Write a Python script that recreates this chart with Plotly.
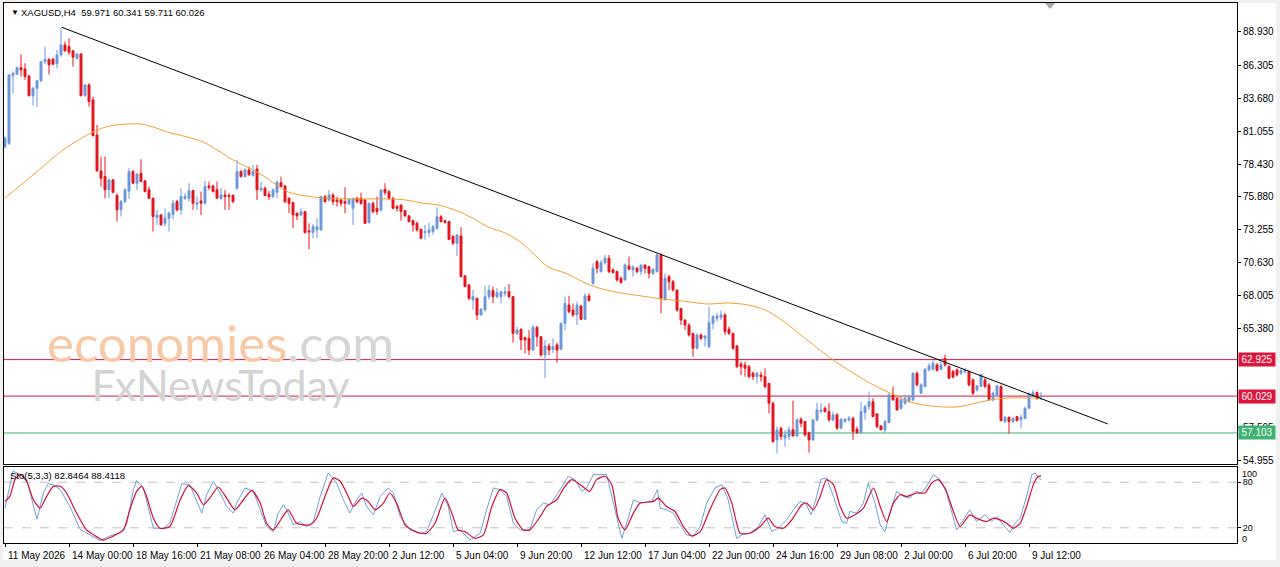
import plotly.graph_objects as go

# ---------------- data ----------------
opens = [79.84, 80.10, 85.46, 85.57, 86.10, 86.00, 85.44, 83.85, 84.46, 85.05,
         86.58, 86.76, 86.76, 86.40, 87.11, 87.90, 87.77, 87.43, 86.84, 87.19,
         83.88, 84.73, 83.54, 80.76, 77.90, 77.45, 76.40, 77.19, 75.95, 74.81,
         75.47, 76.30, 77.85, 76.93, 77.72, 77.11, 76.40, 75.73, 74.20, 74.41,
         73.75, 74.15, 74.45, 75.47, 74.81, 75.73, 75.73, 76.34, 75.26, 75.52,
         75.34, 76.71, 76.71, 76.40, 75.73, 76.00, 75.95, 75.95, 76.53, 77.85,
         77.45, 77.98, 77.53, 78.06, 76.40, 76.53, 76.05, 75.86, 76.20, 76.97,
         76.71, 75.73, 75.39, 74.54, 74.41, 74.67, 73.16, 73.00, 73.22, 73.22,
         75.86, 75.60, 75.99, 75.60, 75.60, 75.46, 75.28, 74.94, 75.73, 75.73,
         75.60, 73.80, 75.33, 74.94, 74.80, 76.44, 76.26, 75.73, 75.07, 75.20,
         74.75, 74.33, 73.96, 73.74, 73.27, 73.00, 73.00, 73.08, 73.35, 74.27,
         73.96, 73.88, 72.69, 72.16, 72.74, 69.57, 68.85, 67.66, 67.79, 66.47,
         66.87, 67.92, 68.40, 67.92, 67.92, 68.19, 68.32, 67.92, 65.01, 65.33,
         64.67, 64.62, 63.69, 65.49, 64.75, 63.29, 64.01, 63.74, 64.09, 63.75,
         65.81, 67.26, 66.86, 66.47, 67.18, 66.12, 67.98, 68.98, 70.70, 69.91,
         70.62, 70.97, 70.04, 69.91, 69.38, 69.25, 70.36, 70.04, 70.17, 69.91,
         70.44, 70.30, 69.77, 69.91, 71.23, 67.71, 69.51, 69.11, 68.45, 66.99,
         66.07, 65.67, 65.01, 63.82, 64.88, 64.62, 63.95, 65.81, 66.20, 66.28,
         66.47, 65.33, 65.01, 64.01, 62.58, 62.50, 62.37, 61.84, 61.57, 61.71,
         61.57, 61.04, 59.46, 56.55, 57.47, 56.69, 56.82, 57.35, 56.87, 58.19,
         58.01, 57.13, 56.55, 58.14, 58.80, 59.07, 58.80, 58.14, 58.54, 57.48,
         58.01, 58.14, 58.27, 57.40, 57.13, 58.72, 59.20, 59.59, 58.62, 57.66,
         57.35, 57.93, 60.12, 59.86, 59.07, 59.46, 59.59, 59.73, 61.84, 60.26,
         60.79, 62.11, 62.16, 62.50, 62.16, 63.03, 62.37, 61.98, 62.11, 61.84,
         61.98, 61.98, 61.31, 60.52, 60.79, 61.31, 60.92, 59.73, 60.12, 60.79,
         58.01, 58.35, 58.01, 58.40, 58.14, 58.27, 59.07, 60.12, 60.31, 59.971]
highs = [80.63, 85.57, 85.79, 86.18, 87.16, 86.45, 85.52, 84.60, 85.13, 86.63,
         87.77, 86.84, 86.89, 87.51, 89.28, 88.17, 88.43, 87.51, 87.24, 87.24,
         84.78, 84.86, 83.80, 81.55, 79.04, 79.04, 77.32, 77.27, 76.13, 75.60,
         76.53, 78.11, 77.98, 77.72, 78.83, 77.19, 76.66, 75.79, 74.81, 74.47,
         74.94, 74.68, 75.60, 75.60, 76.53, 76.13, 76.93, 76.40, 75.87, 76.26,
         77.11, 77.06, 76.79, 77.06, 76.53, 76.40, 76.13, 76.05, 78.78, 77.98,
         78.11, 78.24, 78.38, 78.38, 77.06, 76.66, 76.30, 76.52, 77.18, 77.45,
         76.79, 75.80, 75.46, 74.60, 74.94, 74.72, 73.74, 73.69, 74.14, 75.92,
         75.99, 76.39, 76.13, 75.86, 75.65, 76.60, 75.73, 75.75, 75.86, 76.18,
         75.65, 75.38, 75.46, 75.86, 76.44, 76.92, 76.39, 75.86, 75.20, 75.20,
         74.80, 74.41, 74.01, 73.88, 73.32, 73.61, 73.80, 73.61, 75.02, 74.41,
         74.01, 73.93, 72.82, 72.90, 73.43, 69.64, 68.93, 68.45, 67.84, 67.00,
         68.77, 68.85, 68.72, 68.59, 68.35, 68.72, 68.93, 67.98, 65.54, 65.41,
         64.75, 65.28, 65.67, 65.59, 64.80, 64.48, 64.22, 64.62, 64.27, 65.86,
         67.92, 67.98, 67.39, 67.53, 67.26, 68.19, 68.19, 70.57, 70.83, 70.83,
         71.23, 71.23, 70.17, 69.99, 69.51, 70.57, 71.10, 70.44, 70.30, 70.46,
         70.46, 70.36, 70.17, 71.36, 71.36, 69.77, 69.64, 69.25, 68.45, 66.99,
         66.12, 65.81, 65.01, 65.01, 65.01, 64.88, 67.13, 66.46, 66.65, 66.81,
         66.60, 65.54, 65.07, 64.09, 62.77, 62.77, 62.50, 61.97, 61.97, 61.97,
         62.24, 61.04, 59.60, 57.61, 57.61, 57.35, 57.61, 59.67, 58.27, 58.35,
         58.01, 57.21, 58.19, 59.52, 59.46, 59.20, 59.46, 58.80, 58.67, 58.27,
         58.27, 58.46, 58.40, 57.61, 59.59, 59.33, 60.39, 59.86, 58.67, 57.74,
         58.14, 60.26, 60.79, 59.94, 59.94, 60.12, 60.12, 61.90, 61.98, 61.05,
         62.24, 62.64, 62.85, 62.64, 62.77, 63.30, 62.50, 62.11, 62.24, 62.16,
         62.24, 62.06, 61.45, 60.92, 61.84, 61.45, 61.05, 60.39, 60.92, 60.92,
         58.46, 58.40, 58.35, 58.46, 58.54, 59.20, 60.31, 60.52, 60.39, 60.341]
lows = [79.70, 79.97, 84.07, 85.52, 85.39, 85.13, 83.80, 83.09, 82.96, 84.94,
        86.37, 85.57, 86.30, 86.05, 86.97, 87.37, 87.11, 86.18, 86.71, 83.80,
        83.80, 83.01, 80.63, 77.85, 76.66, 75.73, 75.73, 76.13, 73.88, 74.28,
        75.34, 75.68, 76.87, 76.40, 77.06, 76.21, 75.68, 73.09, 73.62, 73.57,
        73.49, 73.09, 74.07, 74.68, 74.41, 75.60, 75.47, 74.81, 74.81, 74.41,
        75.20, 76.40, 76.21, 75.73, 75.60, 74.81, 74.81, 75.34, 76.40, 77.38,
        77.38, 77.53, 77.45, 75.60, 76.26, 75.87, 75.60, 75.73, 75.73, 76.60,
        75.33, 74.54, 73.35, 74.01, 74.33, 72.95, 71.68, 72.56, 72.56, 73.17,
        75.39, 75.46, 75.20, 75.07, 75.07, 74.54, 75.20, 73.61, 75.33, 75.20,
        73.69, 73.74, 74.54, 74.41, 74.67, 76.00, 75.60, 74.86, 74.67, 73.95,
        74.27, 73.80, 73.08, 73.08, 72.48, 72.42, 72.64, 72.82, 73.22, 73.80,
        73.74, 72.42, 72.03, 71.15, 69.46, 68.70, 67.66, 66.87, 66.07, 66.41,
        66.74, 67.71, 67.40, 67.79, 67.40, 67.92, 67.79, 64.27, 64.88, 63.69,
        63.43, 63.29, 63.64, 63.95, 63.16, 61.44, 63.29, 63.43, 62.68, 63.70,
        65.28, 66.60, 66.33, 65.67, 66.07, 66.07, 67.53, 68.85, 69.77, 69.83,
        70.44, 69.77, 69.77, 69.11, 68.98, 69.20, 70.04, 69.51, 69.77, 69.64,
        69.77, 69.38, 69.64, 69.83, 66.60, 67.61, 68.45, 68.32, 66.73, 65.67,
        65.28, 64.75, 63.16, 63.74, 64.48, 63.95, 63.82, 65.33, 65.94, 66.07,
        64.88, 64.88, 63.69, 62.24, 61.71, 61.57, 61.44, 61.31, 61.04, 61.18,
        60.65, 58.66, 56.34, 55.49, 56.55, 56.02, 56.55, 56.82, 56.82, 57.56,
        56.82, 55.55, 56.50, 58.01, 58.67, 58.72, 58.01, 58.01, 57.35, 57.40,
        57.93, 58.01, 56.55, 57.03, 57.08, 58.14, 58.93, 58.35, 57.48, 57.33,
        57.08, 57.88, 59.67, 58.88, 58.93, 59.33, 59.51, 59.59, 60.79, 60.20,
        60.74, 61.98, 62.06, 61.98, 62.06, 62.37, 61.37, 61.45, 61.58, 61.71,
        61.84, 60.79, 60.12, 60.39, 60.74, 60.65, 59.67, 59.59, 60.04, 58.01,
        57.88, 57.03, 57.93, 58.01, 57.48, 58.19, 58.99, 59.99, 59.73, 59.711]
closes = [80.50, 85.52, 85.65, 86.10, 85.92, 85.39, 83.88, 84.46, 85.05, 86.58,
          86.76, 86.32, 86.37, 87.11, 87.90, 87.43, 87.32, 86.92, 87.19, 83.88,
          84.73, 83.41, 80.71, 77.90, 77.32, 76.40, 77.19, 76.21, 74.81, 75.47,
          76.40, 77.85, 76.93, 77.64, 77.06, 76.26, 75.73, 74.28, 74.41, 73.62,
          74.15, 74.55, 75.34, 74.81, 75.87, 75.87, 76.34, 75.34, 75.39, 75.34,
          76.66, 76.58, 76.26, 75.73, 76.00, 75.87, 75.87, 75.47, 77.85, 77.45,
          77.98, 77.59, 77.85, 76.40, 76.53, 75.95, 75.85, 76.39, 77.00, 76.66,
          75.46, 75.33, 74.41, 74.33, 74.67, 73.00, 73.06, 73.48, 73.48, 75.86,
          75.46, 75.99, 75.46, 75.46, 75.33, 75.33, 75.65, 75.73, 75.46, 75.33,
          73.74, 75.33, 74.67, 74.67, 76.39, 76.18, 75.73, 74.94, 74.94, 74.67,
          74.33, 73.88, 73.61, 73.22, 72.56, 73.08, 73.22, 73.48, 74.27, 73.88,
          73.80, 72.47, 72.16, 72.82, 69.51, 68.72, 67.79, 67.92, 66.47, 66.92,
          67.92, 68.45, 67.92, 68.24, 68.32, 68.32, 67.92, 65.01, 65.28, 64.49,
          64.48, 63.69, 65.49, 64.75, 63.29, 64.01, 63.69, 63.95, 63.69, 65.81,
          67.39, 66.73, 66.47, 67.26, 66.12, 67.98, 67.61, 70.17, 70.17, 70.62,
          70.97, 69.91, 69.83, 69.25, 69.03, 70.44, 70.09, 70.25, 69.91, 70.44,
          70.17, 69.77, 70.09, 71.23, 67.79, 69.38, 69.11, 68.45, 66.86, 66.07,
          65.67, 64.88, 63.82, 64.88, 64.62, 64.80, 65.86, 66.33, 66.39, 66.47,
          65.14, 65.01, 63.82, 62.37, 62.37, 62.24, 61.57, 61.57, 61.84, 61.57,
          60.78, 59.46, 56.42, 57.34, 56.81, 56.95, 57.35, 56.87, 58.14, 57.88,
          56.95, 56.55, 58.14, 58.93, 58.93, 58.80, 58.14, 58.54, 57.48, 58.19,
          58.19, 58.27, 57.21, 57.13, 58.80, 59.20, 59.59, 58.40, 57.61, 57.35,
          58.01, 60.12, 59.73, 58.93, 59.73, 59.86, 59.94, 61.84, 60.92, 60.92,
          62.16, 62.42, 62.64, 62.06, 62.50, 62.50, 61.45, 61.53, 61.71, 62.06,
          62.11, 60.92, 60.26, 60.84, 61.71, 60.79, 59.78, 60.26, 60.84, 58.09,
          58.35, 58.01, 58.25, 58.09, 58.35, 59.07, 60.20, 60.31, 59.86, 60.026]
bars = list(range(len(closes)))

# moving average (read at points along the orange line)
ma_bar = [0, 7, 14.5, 22, 26.2, 33.8, 37, 40.5, 45.5, 49.5, 53.8, 57, 62, 65, 70.8,
          79.2, 87.5, 95.8, 100, 104.2, 108.2, 112.5, 116.8, 120.8, 125, 129.2,
          135.8, 140, 146.8, 152.5, 160.8, 164.2, 169.2, 175.8, 180.8, 185.8, 190,
          194.2, 200.5, 207, 212, 216.2, 221.2, 226.2, 231.2, 238, 243, 246.2,
          251.2, 256.2, 259]
ma_val = [75.76, 77.58, 79.57, 81.0, 81.47, 81.63, 81.39, 81.0, 80.6, 80.2, 79.41,
          78.77, 77.98, 77.42, 76.23, 75.76, 75.68, 75.68, 75.6, 75.36, 75.2, 74.8,
          74.17, 73.45, 72.98, 72.18, 70.28, 69.8, 68.77, 68.3, 67.9, 67.74, 67.58,
          67.34, 67.42, 67.26, 66.87, 66.07, 64.49, 62.9, 61.87, 61.07, 60.28,
          59.57, 59.25, 59.17, 59.49, 59.72, 59.88, 59.88, 59.88]

# stochastic %K (blue) and %D (red)
k_bar = [0, 2, 4, 5.4, 8, 9.6, 10.8, 12, 13.8, 16.2, 18.8, 21.2, 23.8, 26.2, 28.8,
         30.4, 32.1, 32.9, 34.6, 37.1, 39.6, 41.2, 42.9, 44.2, 46.2, 47.9, 49.2,
         50.4, 52.1, 53.8, 55.4, 57.1, 57.9, 60, 62.1, 63.8, 65.4, 67.1, 68.3, 69.6,
         70.4, 72.1, 73.8, 75.4, 77.1, 78.8, 80.8, 82.9, 84.6, 86.2, 87.9, 89.2,
         90.4, 92.1, 93.8, 95.8, 97.1, 98.8, 101.2, 103.8, 105.4, 107.1, 109.2,
         110.8, 112.1, 113.8, 116.2, 118.8, 120.4, 122.1, 123.8, 125.4, 127.1,
         128.8, 131.2, 132.9, 134.6, 136.2, 138.8, 140.8, 142.5, 144.2, 145.4,
         147.1, 148.8, 150.4, 152.1, 154.2, 155.8, 157.1, 158.8, 161.7, 163.1,
         163.8, 165.4, 167.1, 168.8, 170.4, 172.1, 173.8, 175.4, 177.5, 179.2,
         180.8, 182.9, 184.6, 186.2, 188.3, 190, 191.7, 193.3, 195.4, 197.1,
         198.8, 200.2, 201.5, 202.7, 204, 205.4, 207.1, 209.2, 210.4, 211.2,
         212.9, 214.6, 215.8, 217.5, 218.8, 220, 221.2, 222.9, 224.6, 226.2,
         227.5, 229.2, 230.4, 232.1, 233.8, 235.4, 236.7, 237.9, 239.6, 241.2,
         242.9, 245, 246.7, 247.9, 249.6, 251.2, 252.5, 253.8, 255.4, 256.7,
         257.5, 259]
k_val = [45.9, 94.4, 90.0, 83.4, 31.3, 65.8, 78.1, 76.8, 70.2, 48.1, 18.0, 10.6,
         3.1, 9.2, 13.6, 23.8, 70.2, 82.5, 72.4, 19.4, 19.4, 26.0, 54.7, 78.1, 76.8,
         56.9, 39.3, 63.5, 81.2, 65.8, 48.1, 39.3, 52.5, 72.4, 68.0, 43.7, 21.6,
         15.0, 39.3, 50.3, 43.7, 23.8, 28.2, 21.6, 28.2, 61.3, 92.2, 79.0, 56.9,
         39.3, 56.9, 65.8, 48.1, 37.1, 61.3, 72.4, 65.8, 35.0, 17.2, 12.8, 15.0,
         37.1, 65.8, 48.1, 15.0, 17.2, 3.9, 12.8, 43.7, 72.4, 70.2, 61.3, 26.0,
         17.2, 17.2, 43.7, 52.5, 50.3, 70.2, 87.8, 83.4, 68.0, 72.4, 90.0, 90.0,
         90.0, 52.5, 6.1, 32.6, 56.9, 52.5, 54.7, 70.2, 45.9, 43.7, 39.3, 23.8,
         10.6, 9.2, 21.6, 52.5, 72.4, 76.8, 56.9, 6.1, 11.9, 12.8, 21.6, 37.1,
         15.0, 19.4, 30.4, 43.7, 54.7, 52.0, 37.1, 57.0, 84.0, 85.6, 61.3, 28.2,
         26.0, 41.5, 39.3, 52.5, 79.0, 52.5, 23.8, 15.0, 39.3, 68.0, 61.3, 59.1,
         68.0, 65.8, 74.6, 90.0, 83.4, 65.8, 39.3, 17.2, 30.4, 43.7, 28.2, 37.1,
         28.2, 34.8, 23.8, 13.6, 26.0, 32.6, 61.3, 90.0, 92.2, 82.85]
d_bar = [0, 1.2, 2.5, 3.8, 5.4, 7.1, 8.8, 10.4, 12.1, 13.8, 15.4, 17.9, 20.4, 22.9,
         24.6, 27.1, 29.6, 31.2, 32.9, 34.2, 35.4, 37.1, 38.8, 41.2, 43.8, 45.8,
         47.9, 49.6, 51.2, 53.3, 55.4, 57.5, 59.6, 61.7, 63.8, 65.4, 67.1, 69.2,
         70.8, 72.9, 76.2, 77.9, 80, 82.1, 83.8, 85.8, 87.1, 89.2, 90.8, 92.5,
         94.6, 96.2, 97.9, 100, 101.2, 103.8, 105.4, 107.5, 110, 111.7, 113.3, 115,
         117.5, 119.6, 121.7, 123.8, 125.4, 127.5, 129.6, 131.2, 133.8, 135.4,
         137.9, 140, 141.7, 143.8, 146.2, 147.9, 150, 151.7, 153.3, 155, 157.1,
         158.8, 162.1, 163.3, 165.4, 167.5, 169.6, 171.7, 173.8, 176.2, 178.8, 180,
         181.7, 183.8, 186.2, 188.8, 190.8, 192.5, 194.6, 196.7, 199.2, 200.4,
         202.1, 203.8, 205.4, 207.1, 208.8, 210.4, 212.5, 214.6, 217.1, 218.8,
         220.4, 222.1, 223.8, 225.4, 227.9, 230, 231.7, 233.3, 235, 237.1, 238.8,
         241.2, 242.9, 245.4, 247.1, 248.8, 250.4, 252.1, 253.8, 255.4, 257.1,
         258.3, 259]
d_val = [54.7, 61.3, 83.4, 90.0, 81.2, 56.9, 45.9, 61.3, 74.6, 74.6, 65.8, 39.3,
         17.2, 8.4, 3.9, 9.2, 17.2, 43.7, 68.0, 74.6, 61.3, 32.6, 19.4, 21.6, 56.9,
         75.5, 65.8, 50.3, 59.1, 73.7, 59.1, 43.7, 56.9, 69.3, 52.5, 26.0, 17.2,
         32.6, 43.7, 26.0, 23.8, 32.6, 61.3, 85.6, 81.2, 61.3, 48.1, 59.1, 54.7,
         43.7, 52.5, 65.8, 52.5, 23.8, 19.0, 12.8, 12.8, 26.0, 59.1, 39.3, 17.2,
         15.0, 6.1, 10.6, 48.1, 70.2, 65.8, 32.6, 17.2, 17.2, 34.8, 48.1, 56.9,
         74.6, 83.4, 76.8, 68.0, 83.4, 87.8, 76.8, 32.6, 17.2, 39.3, 52.5, 54.7,
         59.1, 48.1, 41.5, 21.6, 9.2, 15.0, 43.7, 70.2, 72.4, 52.5, 12.8, 12.8,
         21.6, 32.6, 21.6, 19.4, 30.4, 50.3, 52.5, 43.7, 61.3, 83.4, 76.8, 48.1,
         32.6, 37.1, 45.9, 72.4, 48.1, 28.2, 52.5, 63.5, 61.3, 65.8, 65.8, 79.0,
         83.4, 72.4, 41.5, 21.6, 37.1, 32.6, 28.2, 32.6, 30.4, 26.0, 19.4, 26.0,
         48.1, 76.8, 87.8, 88.41]

# trend line end points (bar, price)
trend_bar = [14.2, 275.7]
trend_price = [89.30, 57.82]

# horizontal levels
level_values = [62.925, 60.029, 57.103]
level_line_colors = ["#c8194a", "#c8194a", "#3cb371"]
level_box_colors = ["#dc143c", "#dc143c", "#3cb371"]

price_ticks = [88.930, 86.305, 83.680, 81.055, 78.430, 75.880, 73.255, 70.630,
               68.005, 65.380, 57.505, 54.955]
stoch_ticks = [80, 20]
x_tick_bars = [0, 16, 32, 48, 64, 80, 96, 112, 128, 144, 160, 176, 192, 208, 224, 240, 256]
x_tick_labels = ["11 May 2026", "14 May 00:00", "18 May 16:00", "21 May 08:00",
                 "26 May 04:00", "28 May 20:00", "2 Jun 12:00", "5 Jun 04:00",
                 "9 Jun 20:00", "12 Jun 12:00", "17 Jun 04:00", "22 Jun 00:00",
                 "24 Jun 16:00", "29 Jun 08:00", "2 Jul 00:00", "6 Jul 20:00",
                 "9 Jul 12:00"]

header_text = "XAGUSD,H4\u00a0\u00a059.971 60.341 59.711 60.026"
stoch_text = "Sto(5,3,3) 82.8464 88.4118"
watermark_text = ("<span style='font-size:51px'><span style='color:#f9c9a6'>economies</span>"
                  "<span style='color:#d6d6d6'>.com</span></span><br>"
                  "<span style='font-size:43px;color:#d3d3d3'>FxNewsToday</span>")

# ---------------- styling ----------------
BULL = "#6a98dc"
BEAR = "#e3161e"
FONT = "Liberation Sans"
W, H = 1280, 567
ML, MR, MT, MB = 4, 43, 3, 24
PW = W - ML - MR
PH = H - MT - MB


def px_x(px):
    return (px - ML) / PW


def px_y(py):
    return (H - MB - py) / PH


main_dom = [px_y(464), 1.0]
stoch_dom = [0.0, px_y(467)]
x_range = [-0.25, 308]

fig = go.Figure()

fig.add_trace(go.Candlestick(
    x=bars, open=opens, high=highs, low=lows, close=closes,
    xaxis="x", yaxis="y",
    increasing=dict(line=dict(color=BULL, width=1), fillcolor=BULL),
    decreasing=dict(line=dict(color=BEAR, width=1), fillcolor=BEAR),
    whiskerwidth=0, hoverinfo="skip", showlegend=False))

fig.add_trace(go.Scatter(x=ma_bar, y=ma_val, mode="lines", xaxis="x", yaxis="y",
                         line=dict(color="#f0a030", width=1, shape="spline", smoothing=0.8),
                         hoverinfo="skip", showlegend=False))

fig.add_trace(go.Scatter(x=trend_bar, y=trend_price, mode="lines", xaxis="x", yaxis="y",
                         line=dict(color="black", width=1),
                         hoverinfo="skip", showlegend=False))

fig.add_trace(go.Scatter(x=k_bar, y=k_val, mode="lines", xaxis="x2", yaxis="y2",
                         line=dict(color="#6f9fd8", width=1),
                         hoverinfo="skip", showlegend=False))
fig.add_trace(go.Scatter(x=d_bar, y=d_val, mode="lines", xaxis="x2", yaxis="y2",
                         line=dict(color="#d0103a", width=1.2, shape="spline", smoothing=0.6),
                         hoverinfo="skip", showlegend=False))

shapes = [
    # white chart window over grey frame
    dict(type="rect", xref="paper", yref="paper", x0=px_x(3), x1=px_x(1276),
         y0=px_y(560), y1=px_y(3), fillcolor="white", line=dict(width=0), layer="below"),
    # chart-shift marker
    dict(type="path", xref="paper", yref="paper",
         path=f"M {px_x(1045)} {px_y(3)} L {px_x(1055)} {px_y(3)} L {px_x(1050)} {px_y(9)} Z",
         fillcolor="#a8a8a8", line=dict(width=0)),
]
for v, c in zip(level_values, level_line_colors):
    shapes.append(dict(type="line", xref="paper", yref="y", x0=0, x1=1, y0=v, y1=v,
                       line=dict(color=c, width=1), layer="below"))
for v in stoch_ticks:
    shapes.append(dict(type="line", xref="paper", yref="y2", x0=0, x1=1, y0=v, y1=v,
                       line=dict(color="#c0c0c0", width=1, dash="dash"), layer="below"))

annotations = [
    dict(xref="paper", yref="paper", x=px_x(9), y=px_y(13), xanchor="left", yanchor="middle",
         text="\u25BC", showarrow=False, font=dict(family=FONT, size=8, color="black")),
    dict(xref="paper", yref="paper", x=px_x(19), y=px_y(13), xanchor="left", yanchor="middle",
         text=header_text, showarrow=False, font=dict(family=FONT, size=9.5, color="black")),
    dict(xref="paper", yref="paper", x=px_x(8), y=px_y(475), xanchor="left", yanchor="middle",
         text=stoch_text, showarrow=False, font=dict(family=FONT, size=9.5, color="black")),
    dict(xref="paper", yref="paper", x=px_x(220), y=px_y(361), xanchor="center",
         yanchor="middle", align="center", text=watermark_text, showarrow=False,
         font=dict(family="Lato", size=30, color="#d3d3d3")),
    dict(xref="paper", yref="y2", x=1, y=100, xanchor="left", yanchor="top", xshift=3,
         text="100", showarrow=False, font=dict(family=FONT, size=9, color="black")),
    dict(xref="paper", yref="y2", x=1, y=0, xanchor="left", yanchor="middle", xshift=3,
         yshift=4, text="0", showarrow=False, font=dict(family=FONT, size=9, color="black")),
]
for v, c in zip(level_values, level_box_colors):
    annotations.append(dict(xref="paper", yref="y", x=1, y=v, xanchor="left", yanchor="middle",
                            xshift=1, text=f"{v:.3f}", showarrow=False, bgcolor=c,
                            borderpad=1, width=34, align="center",
                            font=dict(family=FONT, size=10, color="white")))
for b, lab in zip(x_tick_bars, x_tick_labels):
    annotations.append(dict(xref="x2", yref="paper", x=b, y=px_y(555), xanchor="left",
                            yanchor="middle", xshift=1, text=lab, showarrow=False,
                            font=dict(family=FONT, size=10, color="black")))

axis_common = dict(showgrid=False, zeroline=False, showline=True, linecolor="black",
                   linewidth=1, mirror=True)

fig.update_layout(
    width=W, height=H,
    margin=dict(l=ML, r=MR, t=MT, b=MB, pad=0),
    paper_bgcolor="#f0f0f0", plot_bgcolor="white",
    hovermode=False, showlegend=False,
    xaxis=dict(domain=[0, 1], range=x_range, anchor="y", showticklabels=False, ticks="",
               rangeslider=dict(visible=False), **axis_common),
    yaxis=dict(domain=main_dom, range=[54.64, 91.23], side="right", anchor="x",
               tickvals=price_ticks, ticktext=[f"{v:.3f}" for v in price_ticks],
               ticks="outside", ticklen=3, tickcolor="black",
               tickfont=dict(family=FONT, size=10, color="black"), **axis_common),
    xaxis2=dict(domain=[0, 1], range=x_range, anchor="y2", matches="x",
                tickvals=x_tick_bars, showticklabels=False, ticks="outside", ticklen=3,
                tickcolor="black", **axis_common),
    yaxis2=dict(domain=stoch_dom, range=[0, 100], side="right", anchor="x2",
                tickvals=stoch_ticks, ticktext=[str(v) for v in stoch_ticks],
                ticks="outside", ticklen=3, tickcolor="black",
                tickfont=dict(family=FONT, size=9, color="black"), **axis_common),
    shapes=shapes, annotations=annotations,
)

fig.write_html("out.html")
